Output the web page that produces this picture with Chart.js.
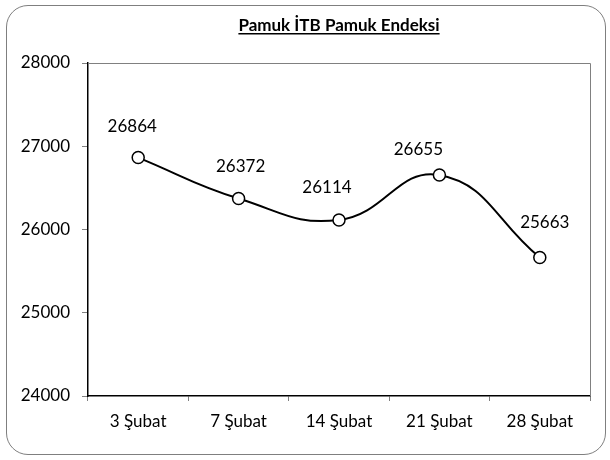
<!DOCTYPE html>
<html>
<head>
<meta charset="utf-8">
<script src="https://cdn.jsdelivr.net/npm/chart.js@4.4.1/dist/chart.umd.min.js"></script>
<style>
  html, body { margin: 0; padding: 0; background: #fff; }
  #wrap { position: relative; width: 610px; height: 460px; }
  #frame {
    position: absolute; left: 6px; top: 5px; width: 598px; height: 448px;
    border: 1px solid #7f7f7f; border-radius: 22px; pointer-events: none;
  }
  canvas { position: absolute; left: 0; top: 0; }
</style>
</head>
<body>
<div id="wrap">
  <div id="frame"></div>
  <canvas id="chart" width="610" height="460"></canvas>
</div>
<script>
// Veriler
const chartTitle = 'Pamuk İTB Pamuk Endeksi';
const categories = ['3 Şubat', '7 Şubat', '14 Şubat', '21 Şubat', '28 Şubat'];
const values = [26864, 26372, 26114, 26655, 25663];
const yTicks = [24000, 25000, 26000, 27000, 28000];

const FONT = 'Lato, "Noto Sans", sans-serif';

// Başlık (altı çizili)
const titlePlugin = {
  id: 'underlinedTitle',
  afterDraw(chart) {
    const c = chart.ctx;
    const x = (chart.chartArea.left + chart.chartArea.right) / 2;
    c.save();
    c.font = 'bold 17px ' + FONT;
    c.fillStyle = '#000';
    c.textAlign = 'center';
    c.textBaseline = 'alphabetic';
    c.fillText(chartTitle, x, 31);
    const w = c.measureText(chartTitle).width;
    c.fillRect(x - w / 2, 33, w, 1.5);
    c.restore();
  }
};

// Nokta etiketleri
const labelOffsets = [[-6, -31], [2, -32], [-12, -32], [-21, -25], [5, -35]];
const valueLabels = {
  id: 'valueLabels',
  afterDatasetsDraw(chart) {
    const c = chart.ctx;
    const meta = chart.getDatasetMeta(0);
    c.save();
    c.font = '17px ' + FONT;
    c.fillStyle = '#000';
    c.textAlign = 'center';
    c.textBaseline = 'middle';
    meta.data.forEach((pt, i) => {
      const off = labelOffsets[i] || [0, -30];
      c.fillText(String(values[i]), pt.x + off[0], pt.y + off[1]);
    });
    c.restore();
  }
};

// Çizim alanı çerçevesi (üst ve sağ)
const plotBorder = {
  id: 'plotBorder',
  beforeDatasetsDraw(chart) {
    const a = chart.chartArea;
    const c = chart.ctx;
    c.save();
    c.strokeStyle = '#808080';
    c.lineWidth = 1;
    c.beginPath();
    c.moveTo(a.left, a.top + 0.5);
    c.lineTo(a.right + 0.5, a.top + 0.5);
    c.lineTo(a.right + 0.5, a.bottom);
    c.stroke();
    c.restore();
  }
};

const ctx = document.getElementById('chart');

new Chart(ctx, {
  type: 'line',
  data: {
    labels: categories,
    datasets: [{
      data: values,
      borderColor: '#000',
      borderWidth: 2,
      tension: 0.45,
      pointRadius: 6,
      pointBorderWidth: 1.5,
      pointBackgroundColor: '#fff',
      pointBorderColor: '#000',
      fill: false
    }]
  },
  options: {
    responsive: false,
    animation: false,
    events: [],
    layout: { padding: { left: 0, right: 20, top: 63, bottom: 0 } },
    plugins: {
      legend: { display: false },
      title: { display: false },
      tooltip: { enabled: false }
    },
    scales: {
      x: {
        offset: true,
        grid: {
          display: true,
          drawOnChartArea: false,
          drawTicks: true,
          tickLength: 5,
          color: '#808080',
          offset: true
        },
        border: { color: '#000', width: 1.5 },
        ticks: {
          font: { family: FONT, size: 17 },
          color: '#000',
          padding: 10,
          maxRotation: 0
        },
        afterFit(scale) { scale.height = 460 - 396; }
      },
      y: {
        min: 24000,
        max: 28000,
        afterBuildTicks(scale) { scale.ticks = yTicks.map(v => ({ value: v })); },
        grid: {
          display: true,
          drawOnChartArea: false,
          drawTicks: true,
          tickLength: 6,
          color: '#808080'
        },
        border: { color: '#000', width: 1.5 },
        ticks: {
          font: { family: FONT, size: 17 },
          color: '#000',
          padding: 12,
          callback: v => String(v)
        },
        afterFit(scale) { scale.width = 88; }
      }
    }
  },
  plugins: [plotBorder, valueLabels, titlePlugin]
});
</script>
</body>
</html>
